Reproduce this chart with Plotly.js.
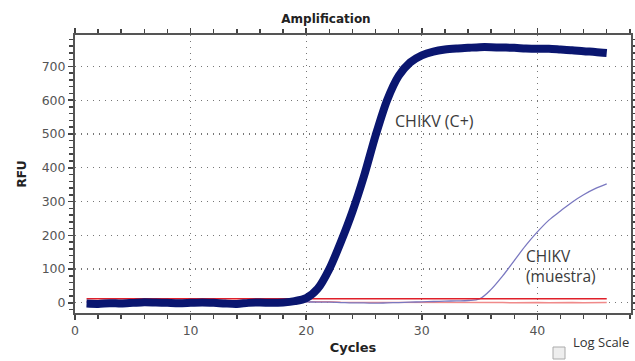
<!DOCTYPE html>
<html>
<head>
<meta charset="utf-8">
<script src="https://cdn.plot.ly/plotly-3.0.1.min.js"></script>
<style>
html,body{margin:0;padding:0;background:#fff;}
#chart{width:635px;height:361px;}
</style>
</head>
<body>
<div id="chart"></div>
<script>
const cycles = [1,2,3,4,5,6,7,8,9,10,11,12,13,14,15,16,17,18,19,20,21,22,23,24,25,26,27,28,29,30,31,32,33,34,35,36,37,38,39,40,41,42,43,44,45,46];
const positiveRFU = [-2,-3,-1,-2,0,2,1,0,-1,0,1,0,-2,-3,0,1,0,1,5,14,42,100,180,270,375,495,600,672,712,733,744,750,753,755,757,757,756,755,753,752,752,750,748,745,743,740];
const sampleRFU = [2,1,2,2,3,3,2,3,3,3,2,3,3,2,3,3,2,3,3,3,2,2,1,0,0,-1,0,1,2,3,4,5,6,7,12,40,80,125,170,210,245,272,298,320,338,352];
const thresholdRFU = [12,12,12,12,12,12,12,12,12,12,12,12,12,12,12,12,12,12,12,12,12,12,12,12,12,12,12,12,12,12,12,12,12,12,12,12,12,12,12,12,12,12,12,12,12,12];
const negativeRFU = [4,4,5,4,4,5,4,4,3,4,4,3,4,4,3,4,3,3,3,4,3,3,2,2,2,3,2,2,2,3,3,2,2,3,2,1,1,0,1,1,0,1,1,0,0,1];
const labelPositive = "CHIKV (C+)";
const labelSample = "CHIKV<br>(muestra)";

const traces = [
  {x: cycles, y: negativeRFU, mode: 'lines', line: {color: '#f08a8a', width: 1.5}, hoverinfo: 'skip'},
  {x: cycles, y: sampleRFU, mode: 'lines', line: {color: '#7a78c0', width: 1.3, shape: 'spline'}, hoverinfo: 'skip'},
  {x: cycles, y: thresholdRFU, mode: 'lines', line: {color: '#e0202a', width: 1.6}, hoverinfo: 'skip'},
  {x: cycles, y: positiveRFU, mode: 'lines', line: {color: '#0a1670', width: 8, shape: 'spline', smoothing: 0.8}, hoverinfo: 'skip'}
];

const axisFont = 'DejaVu Sans, Verdana, sans-serif';
const axisCommon = {
  showline: true, linecolor: '#555', linewidth: 2, mirror: 'ticks',
  ticks: 'outside', ticklen: 5, tickwidth: 1.5, tickcolor: '#444',
  showgrid: true, gridcolor: '#777', griddash: '1px,5px', gridwidth: 1.2,
  zeroline: false,
  tickfont: {family: axisFont, size: 12.5, color: '#555'}
};

const layout = {
  width: 635, height: 361,
  margin: {l: 75, r: 4, t: 35, b: 48},
  paper_bgcolor: '#fff', plot_bgcolor: '#fff',
  showlegend: false,
  title: {text: '<b>Amplification</b>', x: 326 / 635, xanchor: 'center', y: 1 - 19 / 361, yanchor: 'middle',
          font: {family: axisFont, size: 12, color: '#222'}},
  xaxis: Object.assign({}, axisCommon, {
    range: [0, 48.1], dtick: 10, tick0: 0,
    minor: {dtick: 2, ticks: 'outside', ticklen: 4, tickcolor: '#444', showgrid: false},
    title: {text: '<b>Cycles</b>', standoff: 6, font: {family: axisFont, size: 13, color: '#222'}}
  }),
  yaxis: Object.assign({}, axisCommon, {
    range: [-30, 793], dtick: 100, tick0: 0,
    minor: {dtick: 20, ticks: 'outside', ticklen: 4, tickcolor: '#444', showgrid: false},
    title: {text: '<b>RFU</b>', standoff: 12, font: {family: axisFont, size: 12, color: '#222'}}
  }),
  annotations: [
    {x: 31.1, y: 538, xref: 'x', yref: 'y', text: labelPositive, showarrow: false, xanchor: 'center',
     font: {family: 'Open Sans, Liberation Sans, sans-serif', size: 16, color: '#3a3a3a'}},
    {x: 38.8, y: 109, xref: 'x', yref: 'y', text: labelSample, showarrow: false, xanchor: 'left', align: 'left',
     font: {family: 'Open Sans, Liberation Sans, sans-serif', size: 15.5, color: '#3a3a3a'}},
    {x: 0, y: 0, xref: 'paper', yref: 'paper', text: 'Log Scale', showarrow: false,
     font: {family: 'Open Sans, Liberation Sans, sans-serif', size: 13, color: '#333'}}
  ],
  shapes: []
};
const plotW = 635 - 75 - 4, plotH = 361 - 35 - 48;
layout.annotations[2].x = (571 - 75) / plotW;
layout.annotations[2].y = (313 - 353) / plotH;
layout.annotations[2].xanchor = 'left';
layout.shapes.push({type: 'rect', xref: 'paper', yref: 'paper',
  x0: (553 - 75) / plotW, x1: (565 - 75) / plotW,
  y0: (313 - 359) / plotH, y1: (313 - 347) / plotH,
  line: {color: '#aaa', width: 1}, fillcolor: '#eee'});

Plotly.newPlot('chart', traces, layout, {displayModeBar: false, staticPlot: true});
</script>
</body>
</html>
